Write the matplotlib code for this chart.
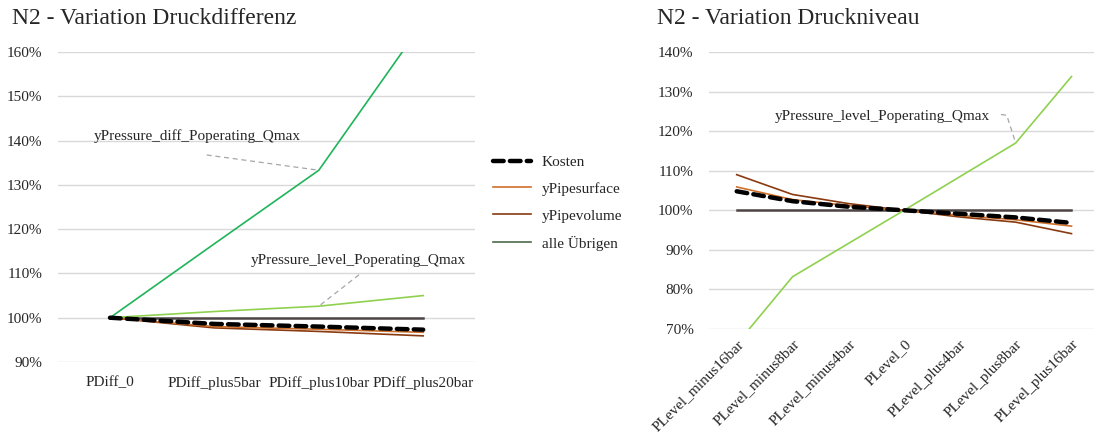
import matplotlib
matplotlib.use('Agg')
import matplotlib.pyplot as plt
from matplotlib.lines import Line2D
from matplotlib.ticker import FuncFormatter

plt.rcParams['font.family'] = ['Liberation Serif', 'DejaVu Serif']
plt.rcParams['text.color'] = '#262626'

# Druckdifferenz
diff_cats = ['PDiff_0', 'PDiff_plus5bar', 'PDiff_plus10bar', 'PDiff_plus20bar']
diff_kosten = [100, 98.6, 98.0, 97.3]
diff_surface = [100, 98.0, 97.4, 96.7]
diff_volume = [100, 97.7, 96.9, 95.9]
diff_pdiff = [100, 116.7, 133.3, 166.7]
diff_plevel = [100, 101.4, 102.6, 105.0]
diff_rest = [100, 100, 100, 100]

# Druckniveau
level_cats = ['PLevel_minus16bar', 'PLevel_minus8bar', 'PLevel_minus4bar', 'PLevel_0',
              'PLevel_plus4bar', 'PLevel_plus8bar', 'PLevel_plus16bar']
level_kosten = [104.8, 102.3, 100.9, 100, 99.1, 98.2, 96.8]
level_surface = [105.9, 102.7, 101.2, 100, 98.7, 97.6, 96.0]
level_volume = [109.0, 104.0, 101.7, 100, 98.3, 97.0, 94.1]
level_plevel = [66.2, 83.2, 91.6, 100, 108.5, 117.0, 133.8]
level_rest = [100, 100, 100, 100, 100, 100, 100]

c_kosten = 'black'
c_surface = '#d0702a'
c_volume = '#8a3a10'
c_pdiff = '#1fb45a'
c_plevel = '#8fd14f'
c_rest = '#4d4545'
c_grid = '#d9d9d9'
c_lead = '#a6a6a6'
fs = 11

fig = plt.figure(figsize=(10.94, 4.34), dpi=100)
ax1 = fig.add_axes([57.8 / 1094, 72 / 434, 417.6 / 1094, 310 / 434])
ax2 = fig.add_axes([708.8 / 1094, 105 / 434, 390.6 / 1094, 277 / 434])


def style(ax, cats, ylo, yhi):
    for s in ax.spines.values():
        s.set_visible(False)
    ax.set_xlim(-0.5, len(cats) - 0.5)
    ax.set_ylim(ylo, yhi)
    ax.set_yticks(range(ylo, yhi + 1, 10))
    ax.yaxis.set_major_formatter(FuncFormatter(lambda v, p: f'{v:.0f}%'))
    ax.grid(axis='y', color=c_grid, linewidth=1)
    ax.set_axisbelow(True)
    ax.tick_params(length=0, labelsize=fs, labelcolor='#262626')
    ax.tick_params(axis='y', pad=11)
    ax.set_xticks(range(len(cats)))


def draw(ax, x, kosten, surface, volume, rest, extra):
    ax.plot(x, rest, color=c_rest, lw=1.8)
    for vals, col in extra:
        ax.plot(x, vals, color=col, lw=1.2)
    ax.plot(x, volume, color=c_volume, lw=1.2)
    ax.plot(x, surface, color=c_surface, lw=1.2)
    ax.plot(x, kosten, color=c_kosten, lw=3.2, dashes=(2.4, 1.4), dash_capstyle='round')


x1 = list(range(len(diff_cats)))
style(ax1, diff_cats, 90, 160)
draw(ax1, x1, diff_kosten, diff_surface, diff_volume, diff_rest,
     [(diff_plevel, c_plevel), (diff_pdiff, c_pdiff)])
ax1.set_xticklabels(diff_cats)
ax1.tick_params(axis='x', pad=10)

ax1.text(-0.16, 141.0, 'yPressure_diff_Poperating_Qmax', fontsize=fs, va='center')
ax1.plot([0.926, 2.0], [136.75, diff_pdiff[2]], color=c_lead, lw=0.9, ls=(0, (4, 3)))
ax1.text(1.35, 113.0, 'yPressure_level_Poperating_Qmax', fontsize=fs, va='center')
ax1.plot([2.385, 2.0], [109.7, diff_plevel[2]], color=c_lead, lw=0.9, ls=(0, (4, 3)))

x2 = list(range(len(level_cats)))
style(ax2, level_cats, 70, 140)
draw(ax2, x2, level_kosten, level_surface, level_volume, level_rest,
     [(level_plevel, c_plevel)])
ax2.set_xticklabels(level_cats, rotation=45, ha='right', rotation_mode='anchor')
ax2.tick_params(axis='x', pad=6)

ax2.text(0.686, 123.7, 'yPressure_level_Poperating_Qmax', fontsize=fs, va='center')
ax2.plot([4.737, 4.84, 5.0], [124.2, 124.0, level_plevel[5]], color=c_lead, lw=0.9,
         ls=(0, (4, 3)))

fig.text(12 / 1094, 1 - 18 / 434, 'N2 - Variation Druckdifferenz', fontsize=17, va='center')
fig.text(657 / 1094, 1 - 18 / 434, 'N2 - Variation Druckniveau', fontsize=17, va='center')

handles = [
    Line2D([], [], color=c_kosten, lw=3.2, dashes=(2.4, 1.4), dash_capstyle='round'),
    Line2D([], [], color=c_surface, lw=1.2),
    Line2D([], [], color=c_volume, lw=1.2),
    Line2D([], [], color='#4b6a4b', lw=1.2),
]
labels = ['Kosten', 'yPipesurface', 'yPipevolume', 'alle Übrigen']
fig.legend(handles, labels, loc='center left', bbox_to_anchor=(493 / 1094, 1 - 203 / 434),
           frameon=False, fontsize=fs, handlelength=2.5, handletextpad=0.7,
           labelspacing=0.85, borderpad=0, borderaxespad=0)

fig.savefig('out.png', dpi=100)
